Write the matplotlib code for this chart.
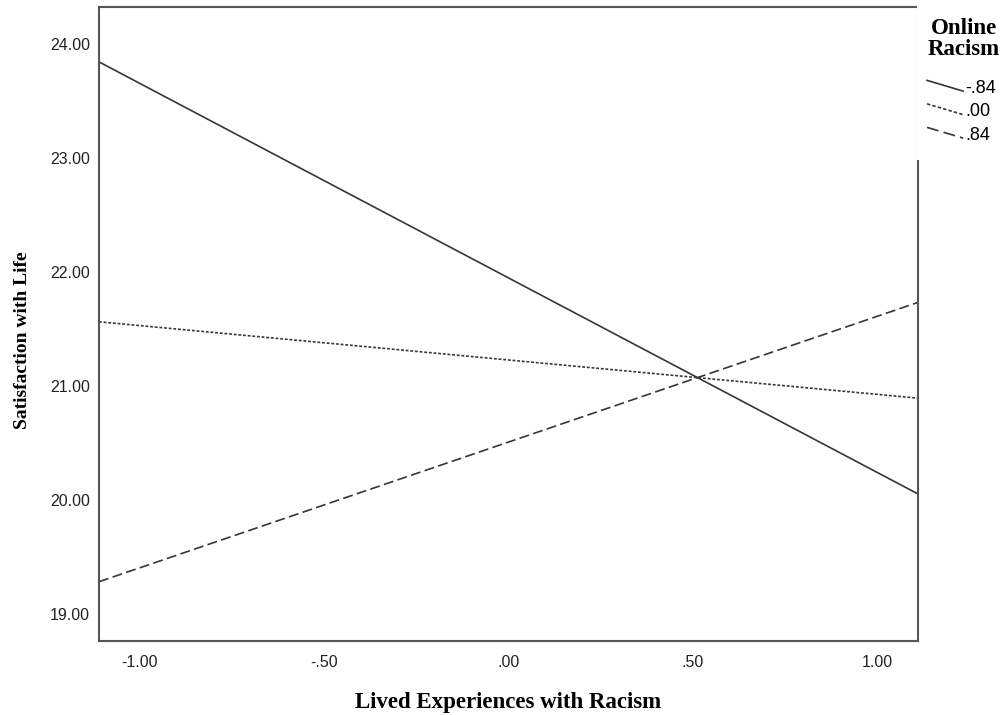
import matplotlib
matplotlib.use("Agg")
import matplotlib.pyplot as plt
from matplotlib.lines import Line2D
from matplotlib.legend_handler import HandlerBase

# datos (rectas simples de la moderacion)
x_ends = [-1.11, 1.11]
y_bajo = [23.84, 20.05]    # Online Racism = -.84
y_medio = [21.56, 20.89]   # Online Racism = .00
y_alto = [19.28, 21.73]    # Online Racism = .84
etiquetas = ["-.84", ".00", ".84"]
x_ticks = [-1.0, -0.5, 0.0, 0.5, 1.0]
x_ticklabels = ["-1.00", "-.50", ".00", ".50", "1.00"]
y_ticks = [19, 20, 21, 22, 23, 24]
y_ticklabels = ["19.00", "20.00", "21.00", "22.00", "23.00", "24.00"]

sans = "Liberation Sans"
serif = "Liberation Serif"
gris = "#363636"


class HandlerInclinado(HandlerBase):
    '''
    Dibuja la muestra de la leyenda como una linea inclinada
    '''
    def create_artists(self, legend, orig_handle, xdescent, ydescent,
                       width, height, fontsize, trans):
        ln = Line2D([-xdescent, width - xdescent],
                    [height * 1.0 - ydescent, height * 0.15 - ydescent],
                    color=orig_handle.get_color(),
                    linewidth=orig_handle.get_linewidth())
        ln.set_dashes(orig_handle._dash_pattern[1] if orig_handle._dash_pattern[1] else (None, None))
        if orig_handle.get_linestyle() == "-":
            ln.set_linestyle("-")
        ln.set_transform(trans)
        return [ln]


fig = plt.figure(figsize=(10.05, 7.15), dpi=100)
ax = fig.add_axes([0.0985, 0.1035, 0.8149, 0.8865])

l1, = ax.plot(x_ends, y_bajo, color=gris, linewidth=1.2, linestyle="-")
l2, = ax.plot(x_ends, y_medio, color=gris, linewidth=1.2, linestyle=(0, (1.7, 1.1)))
l3, = ax.plot(x_ends, y_alto, color=gris, linewidth=1.2, linestyle=(0, (6, 2.6)))

ax.set_xlim(-1.11, 1.11)
ax.set_ylim(18.76, 24.32)
ax.set_xticks(x_ticks)
ax.set_xticklabels(x_ticklabels, fontfamily=sans, fontsize=11.5, color="#222222")
ax.set_yticks(y_ticks)
ax.set_yticklabels(y_ticklabels, fontfamily=sans, fontsize=11.5, color="#222222")
ax.tick_params(axis="x", length=0, pad=10)
ax.tick_params(axis="y", length=0, pad=6.5)

for s in ax.spines.values():
    s.set_color("#555555")
    s.set_linewidth(1.5)

ax.set_xlabel("Lived Experiences with Racism", fontfamily=serif,
              fontweight="bold", fontsize=16.5)
ax.xaxis.set_label_coords(0.5, -0.080)
ax.set_ylabel("Satisfaction with Life", fontfamily=serif,
              fontweight="bold", fontsize=14)
ax.yaxis.set_label_coords(-0.083, 0.4748)

# leyenda fuera del area de trazado
fig.patches.append(plt.Rectangle((0.912, 0.776), 0.09, 0.23, transform=fig.transFigure,
                                 facecolor="white", edgecolor="none", zorder=3))
fig.text(0.959, 0.9455, "Online\nRacism", fontfamily=serif, fontweight="bold",
         fontsize=16.5, ha="center", va="center", linespacing=0.95, zorder=6)
leg = fig.legend([l1, l2, l3], etiquetas, loc="upper left",
                 bbox_to_anchor=(927 / 1005, 1 - 80 / 715), frameon=False,
                 handler_map={Line2D: HandlerInclinado()},
                 prop={"family": sans, "size": 13},
                 handlelength=2.0, handletextpad=0.12, labelspacing=0.36,
                 borderpad=0, borderaxespad=0)
leg.set_zorder(6)

plt.savefig("out.png", dpi=100)
